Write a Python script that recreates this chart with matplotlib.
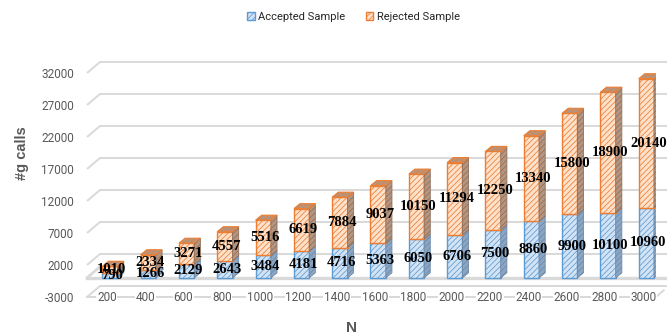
import matplotlib.pyplot as plt
from matplotlib.patches import Polygon, Patch

# sample counts per N
n_values = [200, 400, 600, 800, 1000, 1200, 1400, 1600, 1800, 2000, 2200, 2400, 2600, 2800, 3000]
accepted = [790, 1266, 2129, 2643, 3484, 4181, 4716, 5363, 6050, 6706, 7500, 8860, 9900, 10100, 10960]
rejected = [1010, 2334, 3271, 4557, 5516, 6619, 7884, 9037, 10150, 11294, 12250, 13340, 15800, 18900, 20140]
y_ticks = list(range(-3000, 32001, 5000))

plt.rcParams['hatch.linewidth'] = 0.55

GRAY = '#595959'
GRID = '#d9d9d9'
HATCH = '//////'
BLUE = dict(face='#d3e3f4', edge='#5b9bd5', side='#8aa6c4', side_edge='#6d89a8')
ORANGE = dict(face='#fde1cb', edge='#ed7d31', side='#b59580', side_edge='#8f6f5a')

fig = plt.figure(figsize=(6.67, 3.36), dpi=100)
ax = fig.add_axes([0.1304, 0.1161, 0.853, 0.6667])
x0, x1 = -0.52, 14.33
ax.set_xlim(x0, x1)
ax.set_ylim(-3000, 32000)

# back wall offset and bar depth, in data units
DX, DY = 0.34, 1720
BDX, BDY = 0.16, 780
W = 0.4

# back wall gridlines with the slanted left wall
for v in y_ticks:
    ax.plot([x0, x0 + DX, x1 + 1.0], [v, v + DY, v + DY], color=GRID, lw=1.4,
            clip_on=False, zorder=1, solid_capstyle='butt')

# floor at zero and front edge at the bottom
ax.plot([x0, x0 + DX], [0, DY], color=GRID, lw=2, clip_on=False, zorder=1)
ax.plot([x0, x1 + 0.3], [0, 0], color=GRID, lw=2.4, clip_on=False, zorder=1)
ax.plot([x0, x1, x1 + DX * 0.6], [-3000, -3000, -3000 + DY * 0.6], color=GRID, lw=1.4,
        clip_on=False, zorder=1)


def draw_block(x, bottom, height, c, top=True):
    ax.bar(x, height, bottom=bottom, width=W, color=c['face'], edgecolor=c['edge'],
           hatch=HATCH, lw=1.0, zorder=3)
    r = x + W / 2
    l = x - W / 2
    t = bottom + height
    side = Polygon([(r, bottom), (r + BDX, bottom + BDY), (r + BDX, t + BDY), (r, t)],
                   closed=True, facecolor=c['side'], edgecolor=c['side_edge'],
                   hatch=HATCH, lw=0.6, zorder=3)
    ax.add_patch(side)
    if top:
        lid = Polygon([(l, t), (r, t), (r + BDX, t + BDY), (l + BDX, t + BDY)],
                      closed=True, facecolor=c['side'], edgecolor=c['edge'],
                      hatch=HATCH, lw=0.8, zorder=3)
        ax.add_patch(lid)


label_font = dict(family='Liberation Serif', weight='bold', size=10.5, color='black')
for i, (a, r) in enumerate(zip(accepted, rejected)):
    bx = i + 0.08
    draw_block(bx, 0, a, BLUE, top=False)
    draw_block(bx, a, r, ORANGE)
    ax.text(bx + 0.05, a / 2, str(a), ha='center', va='center', zorder=10, **label_font)
    ax.text(bx + 0.05, a + r / 2, str(r), ha='center', va='center', zorder=10, **label_font)

ax.set_yticks(y_ticks)
ax.set_yticklabels([str(v) for v in y_ticks])
ax.set_xticks(range(len(n_values)))
ax.set_xticklabels([str(n) for n in n_values])
ax.tick_params(axis='y', length=0, pad=9.5, labelsize=8.5, labelcolor=GRAY)
ax.tick_params(axis='x', length=0, pad=-4, labelsize=8.5, labelcolor=GRAY)
for lab in ax.get_xticklabels() + ax.get_yticklabels():
    lab.set_fontfamily('Roboto')
for lab in ax.get_xticklabels():
    lab.set_zorder(5)
    lab.set_bbox(dict(facecolor='white', edgecolor='none', pad=0.5))
for s in ax.spines.values():
    s.set_visible(False)
ax.patch.set_visible(False)

fig.text(0.033, 0.545, '#g calls', rotation=90, ha='center', va='center',
         fontsize=10.5, fontweight='bold', color=GRAY, family='Liberation Sans')
fig.text(0.527, 0.024, 'N', ha='center', va='center',
         fontsize=11, fontweight='bold', color=GRAY, family='Liberation Sans')

handles = [Patch(facecolor=BLUE['face'], edgecolor=BLUE['edge'], hatch=HATCH, label='Accepted Sample'),
           Patch(facecolor=ORANGE['face'], edgecolor=ORANGE['edge'], hatch=HATCH, label='Rejected Sample')]
fig.legend(handles=handles, loc='center', bbox_to_anchor=(0.53, 0.95), ncol=2, frameon=False,
           handlelength=0.7, handleheight=0.7, handletextpad=0.3, columnspacing=1.8,
           prop=dict(family='Roboto', size=8), labelcolor='#262626')

fig.savefig('out.png', dpi=100)
